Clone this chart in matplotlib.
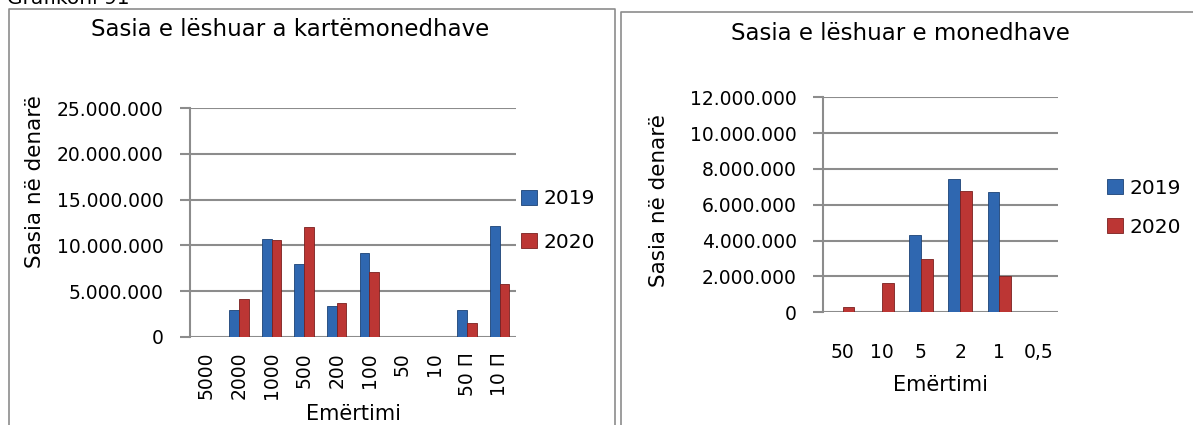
import matplotlib
matplotlib.use('Agg')
import matplotlib.pyplot as plt
from matplotlib.lines import Line2D
import numpy as np

# data (values in denars)
notes_labels = ['5000', '2000', '1000', '500', '200', '100', '50', '10', '50 П', '10 П']
notes_2019 = [0, 2920000, 10690000, 7920000, 3360000, 9120000, 0, 0, 2920000, 12120000]
notes_2020 = [0, 4090000, 10580000, 11970000, 3690000, 7080000, 0, 0, 1530000, 5770000]

coins_labels = ['50', '10', '5', '2', '1', '0,5']
coins_2019 = [30000, 0, 4300000, 7460000, 6700000, 0]
coins_2020 = [280000, 1640000, 2960000, 6770000, 2010000, 0]

years = ['2019', '2020']
blue = '#2F67B0'
red = '#BC3634'
blue_edge = '#1C4275'
red_edge = '#7A1F1E'
grid_gray = '#8C8C8C'

W, H = 1193, 425
plt.rcParams['font.family'] = ['DejaVu Sans']


def fx(px):
    return px / W


def fy(py):
    return 1 - py / H


def dots(v, pos=None):
    return '{:,.0f}'.format(v).replace(',', '.')


def bar_panel(fig, rect, labels, s19, s20, ymax, ystep, rot, xpad, leg_xy, leg_sp):
    ax = fig.add_axes(rect)
    x = np.arange(len(labels))
    b1 = ax.bar(x - 0.15, s19, width=0.3, color=blue, edgecolor=blue_edge,
                linewidth=0.6, zorder=3)
    b2 = ax.bar(x + 0.15, s20, width=0.3, color=red, edgecolor=red_edge,
                linewidth=0.6, zorder=3)
    ax.set_xlim(-0.5, len(labels) - 0.5)
    ax.set_ylim(0, ymax)
    ax.set_yticks(np.arange(0, ymax + 1, ystep))
    ax.yaxis.set_major_formatter(plt.FuncFormatter(dots))
    ax.set_xticks(x)
    ax.set_xticklabels(labels, rotation=rot)
    ax.grid(axis='y', color=grid_gray, linewidth=1.5, zorder=0)
    for s in ['top', 'right', 'bottom']:
        ax.spines[s].set_visible(False)
    ax.spines['left'].set_color(grid_gray)
    ax.spines['left'].set_linewidth(1.5)
    ax.tick_params(axis='y', length=7, width=1.5, color=grid_gray,
                   labelsize=13.5, pad=12)
    ax.tick_params(axis='x', length=0, labelsize=13.5, pad=xpad)
    ax.legend([b1, b2], years, loc='center left', bbox_to_anchor=leg_xy,
              frameon=False, fontsize=14.5, borderpad=0, borderaxespad=0,
              handlelength=0.8, handleheight=0.8, handletextpad=0.3,
              labelspacing=leg_sp)
    return ax


fig = plt.figure(figsize=(W / 100, H / 100), dpi=100)

# left chart: banknotes
ax1 = bar_panel(fig, [fx(190), fy(336.7), fx(516 - 190), (336.7 - 108.3) / H],
                notes_labels, notes_2019, notes_2020, 25000000, 5000000, 90, 11,
                (1.015, 0.509), 1.2)
ax1.set_xlabel('Emërtimi', fontsize=15)
ax1.xaxis.set_label_coords(0.5, -0.295)
ax1.set_ylabel('Sasia në denarë', fontsize=15.5)
ax1.yaxis.set_label_coords(-0.445, 0.68)

# right chart: coins
ax2 = bar_panel(fig, [fx(823), fy(312.3), fx(1058 - 823), (312.3 - 97.3) / H],
                coins_labels, coins_2019, coins_2020, 12000000, 2000000, 0, 22,
                (1.209, 0.487), 1.0)
ax2.set_xlabel('Emërtimi', fontsize=15)
ax2.xaxis.set_label_coords(0.5, -0.29)
ax2.set_ylabel('Sasia në denarë', fontsize=15.5)
ax2.yaxis.set_label_coords(-0.655, 0.522)

fig.text(fx(290), fy(29), 'Sasia e lëshuar a kartëmonedhave', fontsize=16.5,
         ha='center', va='center')
fig.text(fx(900), fy(33), 'Sasia e lëshuar e monedhave', fontsize=16.5,
         ha='center', va='center')
fig.text(fx(7), fy(4), 'Grafikoni 91', fontsize=14.5, ha='left', va='baseline')

# chart frames
frame_kw = dict(color=grid_gray, linewidth=1.2, transform=fig.transFigure)
fig.add_artist(Line2D([fx(8.5), fx(8.5), fx(615), fx(615)],
                      [fy(425), fy(9), fy(9), fy(425)], **frame_kw))
fig.add_artist(Line2D([fx(621), fx(621), fx(1193)],
                      [fy(425), fy(12), fy(12)], **frame_kw))

fig.savefig('out.png', dpi=100)
